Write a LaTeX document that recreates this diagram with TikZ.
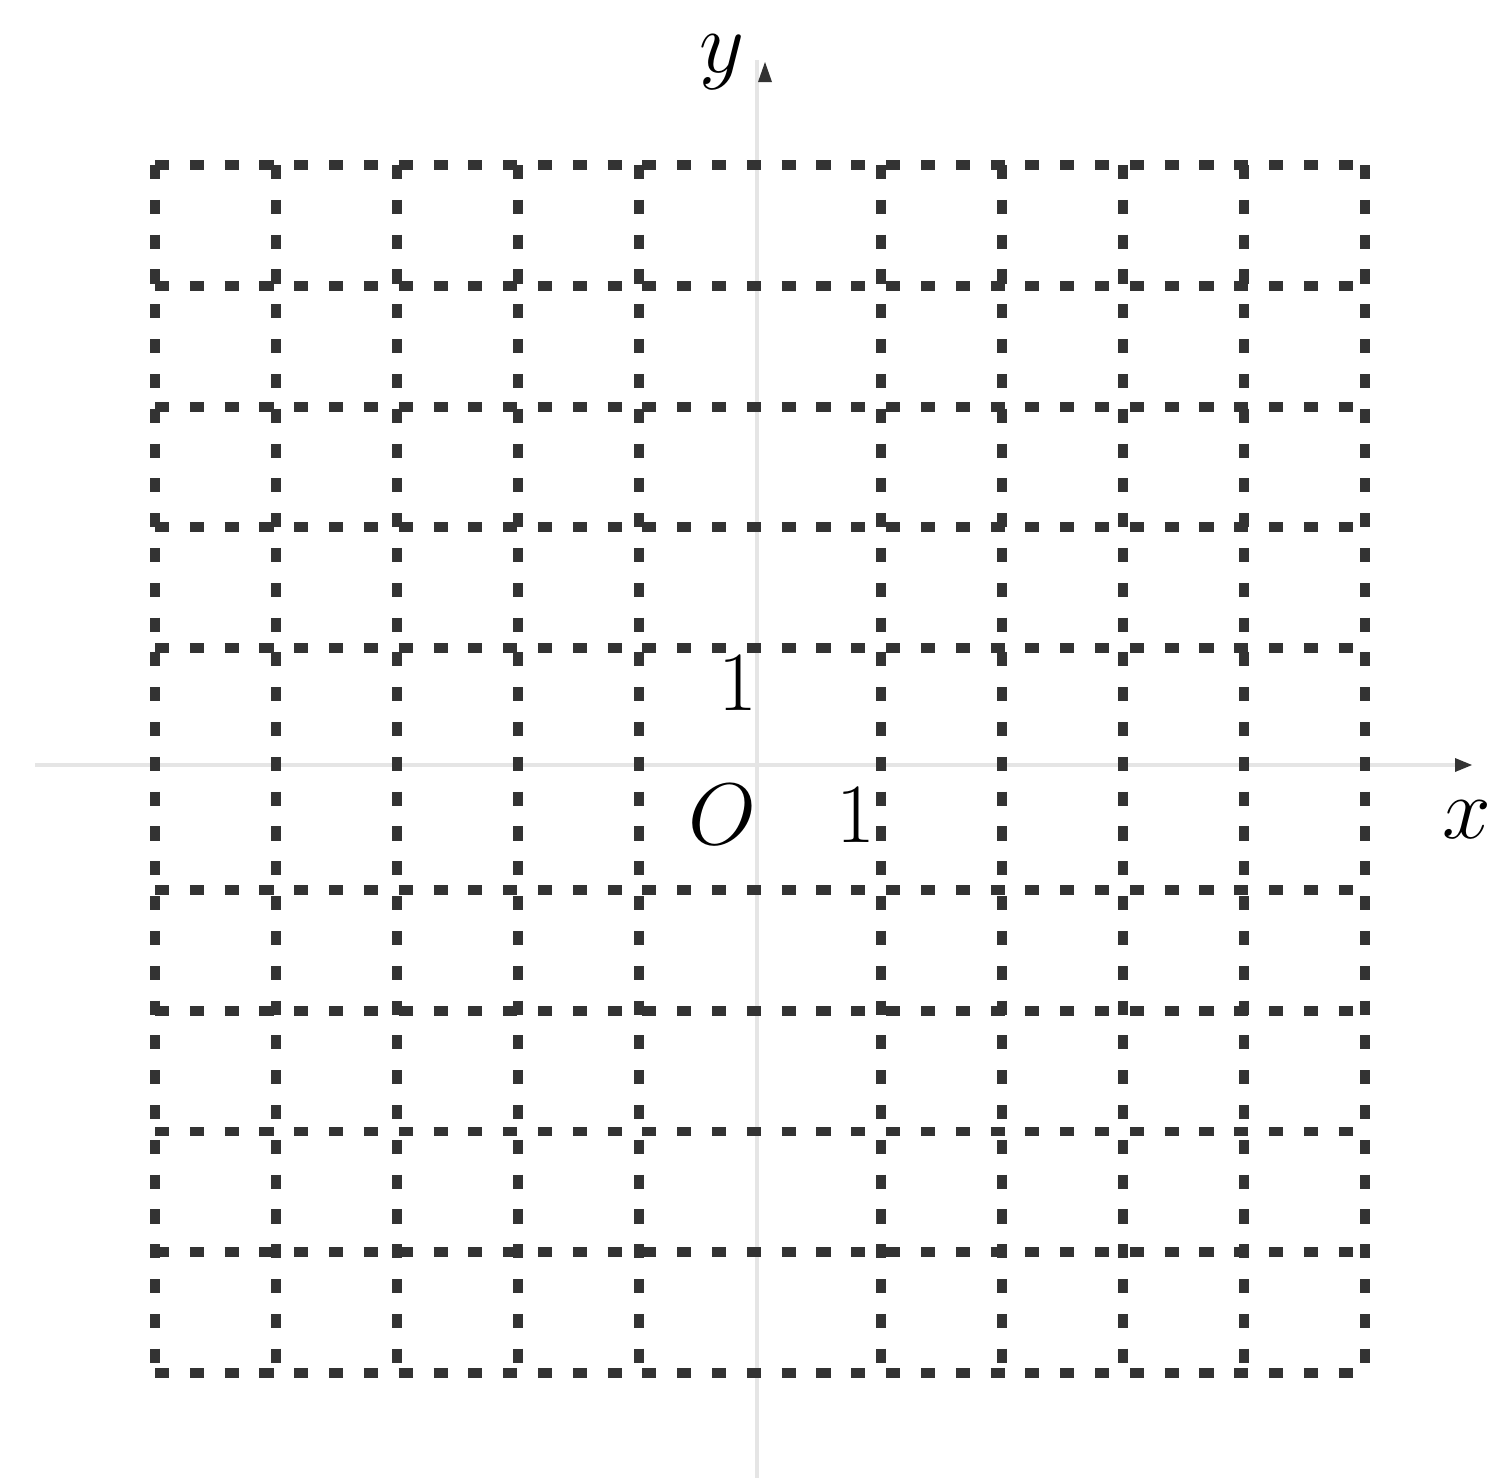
\documentclass[tikz,border=0pt]{standalone}
\usetikzlibrary{arrows.meta}
\begin{document}
\begin{tikzpicture}[x=0.01cm,y=-0.01cm,
  gridline/.style={line width=2.8pt, dash pattern=on 4pt off 5.9pt, black!80},
  axisline/.style={line width=1.4pt, black!10},
  lbl/.style={font=\fontsize{24}{28}\selectfont, inner sep=0pt}]
\useasboundingbox (0,0) rectangle (1494,1478);
% axes
\coordinate (xs) at (35,765);
\coordinate (xe) at (1468,765);
\coordinate (ys) at (757,1478);
\coordinate (ye) at (757,60);
\draw[axisline] (xs) -- (xe);
\draw[axisline] (ys) -- (ye);
\fill[black!80] (1455,758) -- (1472,765) -- (1455,772) -- cycle;
\fill[black!80] (758,82) -- (765,62) -- (772,82) -- cycle;
% grid
\foreach \i in {0,1,2,3,4,6,7,8,9,10} {
  \draw[gridline] (155+121*\i,165) -- (155+121*\i,1373);
  \draw[gridline] (155,165+120.8*\i) -- (1365,165+120.8*\i);
}
% labels
\node[lbl] (ylab) at (722,62) {$y$};
\node[lbl] (xlab) at (1467,820) {$x$};
\node[lbl] (olab) at (722,815) {$O$};
\node[lbl] (one_y) at (738,683) {1};
\node[lbl] (one_x) at (856,815) {1};
\end{tikzpicture}
\end{document}
